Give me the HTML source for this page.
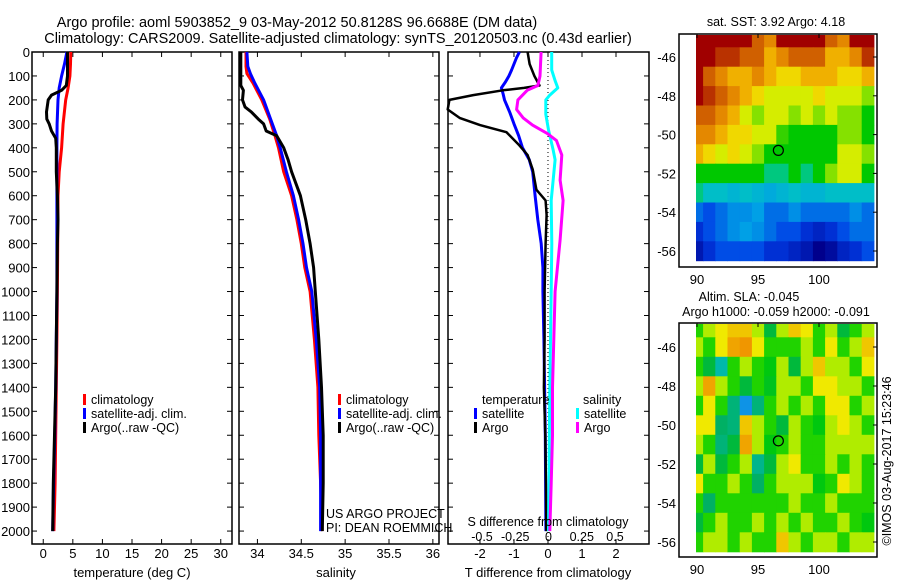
<!DOCTYPE html>
<html><head><meta charset="utf-8"><style>
html,body{margin:0;padding:0;background:#fff;}
svg{display:block;font-family:"Liberation Sans",sans-serif;}
</style></head><body>
<svg id="fig" width="900" height="580" viewBox="0 0 900 580" xmlns="http://www.w3.org/2000/svg">
<rect width="900" height="580" fill="#fff"/>
<text x="297" y="27" font-size="14.5" text-anchor="middle">Argo profile: aoml 5903852_9 03-May-2012 50.8128S 96.6688E (DM data)</text>
<text x="338" y="43" font-size="14.5" text-anchor="middle">Climatology: CARS2009. Satellite-adjusted climatology: synTS_20120503.nc (0.43d earlier)</text>
<g id="plots"></g>
</svg>
<script>
// ---- profile data ----
const tDepth = [0,50,100,150,200,300,400,500,600,800,1000,1200,1400,1600,1800,2000];
const tClim  = [4.65,4.6,4.5,4.2,3.8,3.36,3.1,2.7,2.5,2.45,2.4,2.3,2.2,2.1,2.0,1.8];
const tSat   = [4.0,3.6,3.1,2.7,2.5,2.35,2.3,2.3,2.3,2.3,2.3,2.2,2.1,1.95,1.75,1.6];
const aDepth = [0,100,140,160,180,200,250,280,300,330,360,400,500,600,700,800,1000,1200,1400,1600,1800,2000];
const tArgo  = [4.1,4.1,3.9,3.1,1.4,0.83,0.55,0.6,1.0,1.4,2.1,2.2,2.2,2.4,2.5,2.4,2.3,2.2,2.1,1.9,1.7,1.6];
const sDepth = [0,60,90,130,200,280,350,400,500,600,700,800,900,1000,1200,1400,1600,1800,2000];
const sClim  = [33.87,33.87,33.88,33.95,34.05,34.14,34.2,34.24,34.3,34.39,34.45,34.5,34.54,34.6,34.65,34.69,34.7,34.72,34.74];
const sSat   = [33.88,33.89,33.92,33.97,34.07,34.15,34.22,34.26,34.33,34.41,34.47,34.52,34.56,34.62,34.67,34.71,34.72,34.72,34.72];
const saDepth= [0,100,140,160,200,230,250,280,300,330,350,400,450,500,600,700,800,900,1000,1200,1400,1600,1800,2000];
const sArgo  = [33.81,33.81,33.81,33.84,33.83,33.86,33.93,34.01,34.07,34.1,34.22,34.3,34.35,34.39,34.49,34.55,34.6,34.64,34.66,34.7,34.73,34.75,34.75,34.74];
// ---- difference data ----
const dtDepth = [0,25,50,75,100,125,150,175,200,250,300,350,400,450,500,600,700,800,900,1000,1200,1400,1600,1800,2000];
const dtSat   = [-0.84,-0.93,-1.0,-1.07,-1.15,-1.25,-1.37,-1.32,-1.28,-1.13,-1.0,-0.86,-0.75,-0.55,-0.45,-0.38,-0.3,-0.2,-0.15,-0.15,-0.12,-0.1,-0.08,-0.07,-0.06];
const daDepth = [0,50,100,140,150,160,180,200,240,275,305,335,390,430,490,575,620,680,800,1000,1200,1400,1600,1800,2000];
const dtArgo  = [-0.6,-0.54,-0.4,-0.25,-0.7,-1.33,-2.2,-2.9,-2.95,-2.6,-2.0,-1.22,-0.84,-0.6,-0.45,-0.34,-0.07,-0.04,-0.07,-0.1,-0.1,-0.12,-0.08,-0.06,-0.05];
const dsDepth = [0,75,120,150,180,200,260,325,410,450,620,800,1000,1400,2000];
const dsSat   = [0.024,0.024,0.05,0.07,0.01,-0.02,-0.02,0,0.035,0.05,0.02,0.025,0.02,0.01,0.0];
const dsaDepth= [0,100,140,160,200,240,275,305,340,370,430,535,620,785,1000,1200,1400,1600,1800,2000];
const dsArgo  = [-0.056,-0.064,-0.08,-0.16,-0.23,-0.24,-0.19,-0.12,-0.01,0.06,0.1,0.087,0.11,0.087,0.05,0.04,0.03,0.03,0.02,0.01];
// ---- tick labels ----
const depthTicks = [0,100,200,300,400,500,600,700,800,900,1000,1100,1200,1300,1400,1500,1600,1700,1800,1900,2000];
const tTicks = [0,5,10,15,20,25,30];
const sTicks = [34,34.5,35,35.5,36];
const dtTicks = [-2,-1,0,1,2];
const dsTicks = [-0.5,-0.25,0,0.25,0.5];
const dsTickLabels = ["-0.5","-0.25","0","0.25","0.5"];
const lonTicks = [90,95,100];
const latTicks = [-46,-48,-50,-52,-54,-56];
// ---- map data (1 deg cells, rows from -45 to -56, cols lon 90..104) ----
const mapLons = [90,91,92,93,94,95,96,97,98,99,100,101,102,103,104];
const mapLats = [-45,-46,-47,-48,-49,-50,-51,-52,-53,-54,-55,-56];
const sstGrid = [
[8,8,8,8,8,7,6.5,8,8,8,8,7,6.5,8,8],
[8,8,7.5,7.5,7,7,6,6.5,7,7,7,6,6,6.5,7.5],
[8,7,6.5,6,6,6.5,6,5.5,5.5,6,6,6,5.5,5.5,6],
[8,7.5,7,6.5,6,5.5,5,5,5,5,5.5,5,5,5,4.5],
[7,7,6.5,6,5,4.5,5,5,4.5,5,4.5,5,4.5,4.5,4],
[6.5,6.5,6,5.5,5.5,5,5,4.2,4,4,4,4,4.5,4.5,4],
[6,5.5,5,5.5,5,4.5,4,4,4,4,4,4,5,5,4.5],
[4,4,4,4,4,4,3.8,3.8,4,3.8,4,4.5,5,5,4],
[3.8,3.6,3.6,3.5,3.6,3.5,3.4,3.5,3.6,3.5,3.5,3.6,3.6,3.6,3.6],
[3,2.8,3,3.2,3.2,3.3,3,3,3.2,3,3,3,3,3.2,3],
[2.6,2.8,3,3.2,3.3,3.2,3,2.8,2.8,2.6,2.5,2.6,2.8,3,3],
[2.4,2.6,2.8,2.8,2.8,2.8,2.6,2.6,2.5,2.4,2.2,2.3,2.5,2.6,2.8]];
const slaGrid = [
[0,0.05,0.1,0.15,0.15,0.05,-0.05,0.05,0.15,0.1,0,0.05,-0.05,0,0.05],
[0.05,0,0.1,0.2,0.25,0.1,0,0,0,0.05,0,0.1,0,0.05,0.15],
[0,-0.05,-0.15,0,0.05,0,-0.02,0.05,-0.05,0.05,0.15,0.05,0.05,0,0.1],
[0.05,0.2,0.05,0,-0.05,0,-0.03,0.05,0.05,0,0.1,0.1,0.05,0.05,0],
[0,0.1,0,-0.1,-0.22,-0.1,0,0.05,0,0.05,0,0.1,0.1,0,0.05],
[0.1,0.1,-0.08,-0.1,0.15,0.05,0,-0.05,0.05,0,-0.02,0.05,0.1,0.05,0],
[0.05,0,-0.1,-0.05,0.2,0.05,-0.02,0,0.05,0,0,0.05,0.05,0.05,0.05],
[-0.05,0.05,-0.05,0,0.05,-0.12,-0.05,0.05,0.1,0,0,0.05,0,0.05,0],
[0.1,0,0,0.05,0,-0.08,0,0.05,0.05,0.05,-0.02,0,0.1,0.05,0],
[0,-0.08,0,0,0,0,0,0,0.05,0,0,0.05,0,0,0],
[-0.05,0,0.05,0,0,0.05,0,0.05,0,0.05,0,0,0.05,0,-0.02],
[0,0.05,0.05,0,0.05,0,0,0.15,0.05,0,0.05,0.05,0,0.05,0.05]];
const argoLon = 96.6688, argoLat = -50.8128;

const NS="http://www.w3.org/2000/svg";
const root=document.getElementById('plots');
function mk(tag,attrs,parent){const e=document.createElementNS(NS,tag);for(const k in attrs)e.setAttribute(k,attrs[k]);(parent||root).appendChild(e);return e;}
function txt(s,x,y,attrs,parent){const e=mk('text',Object.assign({x:x,y:y,'font-size':13},attrs||{}),parent);e.textContent=s;return e;}

const Y0=52, Y1=544, DMAX=2054;
const yD = d => Y0 + (d/DMAX)*(Y1-Y0);
function lin(d0,d1,p0,p1){return v=>p0+(v-d0)/(d1-d0)*(p1-p0);}
const xT = lin(-1.9,31.9,32,232);
const xS = lin(33.79,36.07,239,439);
const xDT = lin(-2.94,2.97,448,649);
const xDS = lin(0,1,548.5,681.5);

function panel(name,x0,x1,xs,ticks,labels,showDepth){
  const g=mk('g',{});
  
  
  const r=mk('rect',{x:x0,y:Y0,width:x1-x0,height:Y1-Y0,fill:'none',stroke:'#000','stroke-width':1.5},g);
  
  
  depthTicks.forEach(d=>{
    mk('line',{x1:x0,x2:x0+5,y1:yD(d),y2:yD(d),stroke:'#000'},g);
    mk('line',{x1:x1,x2:x1-5,y1:yD(d),y2:yD(d),stroke:'#000'},g);
    if(showDepth){const t=txt(String(d),x0-2,yD(d)+5,{'text-anchor':'end'},g);
      
      }
  });
  ticks.forEach((v,i)=>{
    const x=xs(v);
    mk('line',{x1:x,x2:x,y1:Y1,y2:Y1-5,stroke:'#000'},g);
    mk('line',{x1:x,x2:x,y1:Y0,y2:Y0+5,stroke:'#000'},g);
    const t=txt(labels[i],x,558,{'text-anchor':'middle'},g);
    
    
  });
  return g;
}
function line(g,name,depths,vals,xs,color,w){
  const pts=depths.map((d,i)=>xs(vals[i]).toFixed(1)+','+yD(d).toFixed(1)).join(' ');
  const p=mk('polyline',{points:pts,fill:'none',stroke:color,'stroke-width':w,'stroke-linejoin':'round'},g);
  
  
}
function legend(g,items,x,y){
  items.forEach((it,i)=>{
    mk('rect',{x:x,y:y+i*14-10,width:3,height:11,fill:it[1]},g);
    const t=txt(it[0],x+8,y+i*14,{'font-size':12.5},g);
    
    
  });
}

// Panel 1 temperature
const p1=panel('temperature-panel',32,232,xT,tTicks,tTicks.map(String),true);
line(p1,'temp-climatology',tDepth,tClim,xT,'#f00',3);
line(p1,'temp-satellite-adj',tDepth,tSat,xT,'#00f',3);
line(p1,'temp-argo',aDepth,tArgo,xT,'#000',3);
legend(p1,[['climatology','#f00'],['satellite-adj. clim.','#00f'],['Argo(..raw -QC)','#000']],83,404);
let t=txt('temperature (deg C)',132,577,{'text-anchor':'middle'},p1);



// Panel 2 salinity
const p2=panel('salinity-panel',239,439,xS,sTicks,sTicks.map(String),false);
line(p2,'sal-climatology',sDepth,sClim,xS,'#f00',3);
line(p2,'sal-satellite-adj',sDepth,sSat,xS,'#00f',3);
line(p2,'sal-argo',saDepth,sArgo,xS,'#000',3);
legend(p2,[['climatology','#f00'],['satellite-adj. clim.','#00f'],['Argo(..raw -QC)','#000']],338,404);
t=txt('salinity',336,577,{'text-anchor':'middle'},p2);


t=txt('US ARGO PROJECT',326,518,{'font-size':12.5},p2);


t=txt('PI: DEAN ROEMMICH',326,532,{'font-size':12.5},p2);



// Panel 3 differences
const p3=panel('difference-panel',448,649,xDT,dtTicks,dtTicks.map(String),false);
mk('line',{x1:xDT(0),x2:xDT(0),y1:Y0,y2:Y1,stroke:'#000','stroke-width':1,'stroke-dasharray':'1,3'},p3);
line(p3,'dt-satellite',dtDepth,dtSat,xDT,'#00f',3);
line(p3,'dt-argo',daDepth,dtArgo,xDT,'#000',2.5);
line(p3,'ds-satellite',dsDepth,dsSat,xDS,'#0ff',3);
line(p3,'ds-argo',dsaDepth,dsArgo,xDS,'#f0f',3);
t=txt('temperature',482,404,{'font-size':12.5},p3);


t=txt('salinity',583,404,{'font-size':12.5},p3);


legend(p3,[['satellite','#00f'],['Argo','#000']],474,418);
legend(p3,[['satellite','#0ff'],['Argo','#f0f']],576,418);
t=txt('S difference from climatology',548,526,{'text-anchor':'middle','font-size':12.5},p3);


dsTicks.forEach((v,i)=>{
  const tt=txt(dsTickLabels[i],xDS(v),541,{'text-anchor':'middle','font-size':12.5},p3);
  
  
});
t=txt('T difference from climatology',548,577,{'text-anchor':'middle'},p3);



// ---- maps ----
function interpColor(stops,v){
  if(v<=stops[0][0])return stops[0][1];
  for(let i=1;i<stops.length;i++){
    if(v<=stops[i][0]){const a=stops[i-1],b=stops[i];const f=(v-a[0])/(b[0]-a[0]);
      const c=a[1].map((x,k)=>Math.round(x+(b[1][k]-x)*f));return c;}
  }
  return stops[stops.length-1][1];
}
const sstStops=[[2.2,[0,0,140]],[2.7,[0,60,230]],[3.3,[0,160,230]],[3.7,[0,200,190]],[4.0,[0,200,0]],[4.6,[160,230,0]],[5.2,[240,240,0]],[6.2,[240,160,0]],[7.2,[200,80,0]],[8,[160,0,0]]];
const slaStops=[[-0.25,[20,130,255]],[-0.15,[0,185,170]],[-0.07,[0,175,90]],[-0.01,[0,205,0]],[0.04,[160,235,0]],[0.09,[240,240,0]],[0.22,[240,150,0]]];

function map(name,top,bottom,grid,stops,titles){
  const g=mk('g',{});
  
  
  const xL=lin(90,100,697,819), yL=lin(-46,-56,top===34?57:347,top===34?251:542);
  mapLats.forEach((la,r)=>{
    mapLons.forEach((lo,c)=>{
      const c0=xL(lo-0.5), c1=xL(lo+0.5), r0=yL(la+0.5), r1=yL(la-0.5);
      const x=Math.max(c0,696), y=Math.max(r0,top+1);
      const col=interpColor(stops,grid[r][c]);
      const cell=mk('rect',{x:x.toFixed(1),y:y.toFixed(1),width:(Math.min(c1,877)-x+0.5).toFixed(1),height:(Math.min(r1,bottom)-y+0.5).toFixed(1),fill:'rgb('+col.join(',')+')'},g);
      
      
    });
  });
  const fr=mk('rect',{x:679,y:top,width:198,height:bottom-top,fill:'none',stroke:'#000','stroke-width':1.5},g);
  
  
  lonTicks.forEach(v=>{
    mk('line',{x1:xL(v),x2:xL(v),y1:top,y2:top+4,stroke:'#000'},g);
    const tt=txt(String(v),xL(v),bottom+17,{'text-anchor':'middle'},g);
    
    
  });
  latTicks.forEach(v=>{
    mk('line',{x1:877,x2:873,y1:yL(v),y2:yL(v),stroke:'#000'},g);
    const tt=txt(String(v),676,yL(v)+5,{'text-anchor':'end'},g);
    
    
  });
  const c=mk('circle',{cx:xL(argoLon),cy:yL(argoLat),r:5,fill:'none',stroke:'#000','stroke-width':1.2},g);
  
  
  titles.forEach(tl=>{const tt=txt(tl[0],tl[1],tl[2],{'text-anchor':'middle','font-size':12.5},g);
    
    });
}
map('sst-map',34,267,sstGrid,sstStops,[['sat. SST: 3.92  Argo: 4.18',776,26]]);
map('sla-map',323,557,slaGrid,slaStops,[['Altim. SLA: -0.045',749,301],['Argo h1000: -0.059 h2000: -0.091',776,316]]);
t=txt('©IMOS 03-Aug-2017 15:23:46',0,0,{'font-size':12.5,'text-anchor':'middle',transform:'translate(891,461) rotate(-90)'});


</script>
</body></html>
